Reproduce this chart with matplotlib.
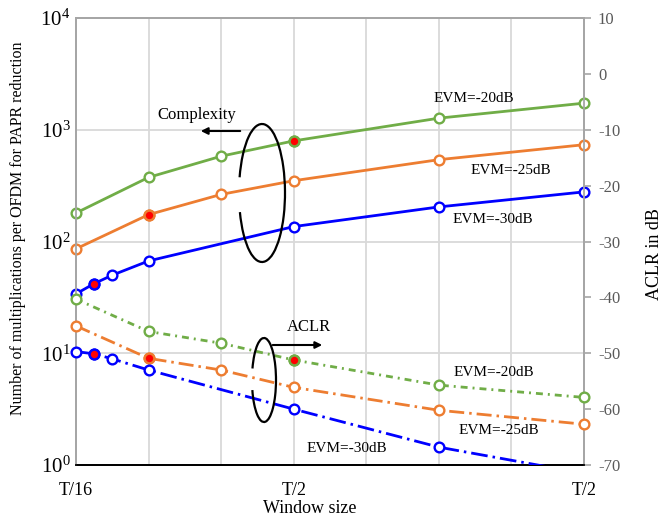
import math
import matplotlib
matplotlib.use("Agg")
import matplotlib.pyplot as plt
from matplotlib.patches import Arc
from matplotlib.ticker import FixedLocator, FuncFormatter

plt.rcParams['font.family'] = ['Liberation Serif', 'DejaVu Serif']
plt.rcParams['mathtext.fontset'] = 'custom'
plt.rcParams['mathtext.rm'] = 'Liberation Serif'
plt.rcParams['mathtext.it'] = 'Liberation Serif:italic'
plt.rcParams['axes.unicode_minus'] = False

# ---------------- data ----------------
x_main = [0, 1, 2, 3, 5, 7]
x_blue = [0, 0.25, 0.5, 1, 3, 5, 7]

cplx_evm20 = [180, 375, 580, 795, 1270, 1730]
cplx_evm25 = [86, 174, 264, 350, 540, 735]
cplx_evm30 = [34, 42, 50, 67, 136, 204, 278]

aclr_evm20 = [-40.3, -46.1, -48.2, -51.2, -55.7, -57.9]
aclr_evm25 = [-45.1, -50.9, -53.0, -56.1, -60.2, -62.7]
aclr_evm30 = [-49.7, -50.1, -51.0, -53.0, -60.0, -66.8, -71.5]

red20_idx = 3   # x = 3
red25_idx = 1   # x = 1
red30_idx = 1   # x = 0.25

xtick_pos = [0, 3, 7]
xtick_labels = ["T/16", "T/2", "T/2"]

# ---------------- style ----------------
GREEN = "#70ad47"
ORANGE = "#ed7d31"
BLUE = "#0000ff"
GRID = "#d9d9d9"

fig = plt.figure(figsize=(6.66, 5.19), dpi=100)
ax = fig.add_axes([0.1141, 0.104, 0.7628, 0.8613])
ax2 = ax.twinx()

ax.set_yscale("log")
ax.set_ylim(1, 1e4)
ax.set_xlim(0, 7)
ax2.set_ylim(-70, 10)

# grid
ax.xaxis.set_major_locator(FixedLocator(list(range(8))))
ax.grid(True, which="major", color=GRID, lw=1.3)
ax.yaxis.set_major_locator(FixedLocator([1, 10, 100, 1000, 10000]))
ax.yaxis.set_minor_locator(FixedLocator([]))
ax.yaxis.set_major_formatter(FuncFormatter(lambda v, p: r"$\mathregular{10^{%d}}$" % round(math.log10(v))))
ax.tick_params(axis="y", length=0, labelsize=15, pad=4)
ax.set_xticklabels([])
ax.tick_params(axis="x", length=0)
for xp, lab in zip(xtick_pos, xtick_labels):
    ax.text(xp, -0.057, lab, transform=ax.get_xaxis_transform(), ha="center", va="center", fontsize=13)

ax2.set_yticks(range(-70, 11, 10))
ax2.tick_params(axis="y", length=5, color="#a6a6a6", width=1.2, labelcolor="#595959", labelsize=12, pad=5)

for a in (ax, ax2):
    a.spines["left"].set_color("#a6a6a6")
    a.spines["right"].set_color("#a6a6a6")
    a.spines["top"].set_color("#a6a6a6")
    a.spines["bottom"].set_color("black")
    for s in a.spines.values():
        s.set_linewidth(1.3)

ax.set_ylabel("Number of multiplications per OFDM for PAPR reduction", fontsize=11.5)
ax.yaxis.set_label_coords(-0.098, 0.53)
ax2.set_ylabel("ACLR in dB", fontsize=13)
ax2.yaxis.set_label_coords(1.122, 0.472)
ax.set_xlabel("Window size", fontsize=13)
ax.xaxis.set_label_coords(0.46, -0.078)

ms = 7
mew = 1.7
lw = 2.0

def draw(axis, xs, ys, color, ls, red_idx, z, lo, hi):
    axis.plot(xs, ys, color=color, lw=lw, ls=ls, zorder=z)
    mx = [x for x, y in zip(xs, ys) if lo <= y <= hi]
    my = [y for y in ys if lo <= y <= hi]
    axis.plot(mx, my, ls="none", marker="o", ms=ms, mfc="white",
              mec=color, mew=mew, zorder=z + 0.05, clip_on=False)
    axis.plot([xs[red_idx]], [ys[red_idx]], ls="none", marker="o", ms=ms, mfc="red",
              mec=color, mew=mew, zorder=z + 0.1, clip_on=False)

# complexity (left axis)
draw(ax, x_main, cplx_evm20, GREEN, "-", red20_idx, 3, 1, 1e4)
draw(ax, x_main, cplx_evm25, ORANGE, "-", red25_idx, 3, 1, 1e4)
draw(ax, x_blue, cplx_evm30, BLUE, "-", red30_idx, 3, 1, 1e4)

# ACLR (right axis)
draw(ax2, x_main, aclr_evm20, GREEN, (0, (2.5, 1.8, 0.7, 1.8)), red20_idx, 3, -70, 10)
draw(ax2, x_main, aclr_evm25, ORANGE, (0, (5.4, 1.8, 0.9, 1.8)), red25_idx, 3, -70, 10)
draw(ax2, x_blue, aclr_evm30, BLUE, (0, (6.0, 1.8, 0.9, 1.8)), red30_idx, 4, -70, 10)

# annotations in pixel-based figure coordinates
W, H = 666.0, 519.0
def fx(px):
    return px / W
def fy(py):
    return 1 - py / H

ftr = fig.transFigure
# Complexity ellipse + arrow
fig.patches.append(Arc((fx(262), fy(193)), 46 / W, 138 / H, theta1=228, theta2=138,
                       transform=ftr, color="black", lw=1.6, zorder=10))
ax2.annotate("", xy=(fx(198), fy(131)), xycoords=ftr, xytext=(fx(243), fy(131)), textcoords=ftr,
             arrowprops=dict(arrowstyle="-|>", color="black", lw=1.5, mutation_scale=10), zorder=10)
fig.text(fx(197), fy(115), "Complexity", ha="center", va="center", fontsize=12)

# ACLR ellipse + arrow
fig.patches.append(Arc((fx(264), fy(380)), 24 / W, 84 / H, theta1=228, theta2=128,
                       transform=ftr, color="black", lw=1.6, zorder=10))
ax2.annotate("", xy=(fx(325), fy(345)), xycoords=ftr, xytext=(fx(270), fy(345)), textcoords=ftr,
             arrowprops=dict(arrowstyle="-|>", color="black", lw=1.5, mutation_scale=10), zorder=10)
fig.text(fx(309), fy(327), "ACLR", ha="center", va="center", fontsize=12)

# EVM labels
fs = 11
fig.text(fx(474), fy(99), "EVM=-20dB", ha="center", va="center", fontsize=fs)
fig.text(fx(511), fy(171), "EVM=-25dB", ha="center", va="center", fontsize=fs)
fig.text(fx(493), fy(219), "EVM=-30dB", ha="center", va="center", fontsize=fs)
fig.text(fx(494), fy(373), "EVM=-20dB", ha="center", va="center", fontsize=fs)
fig.text(fx(499), fy(430), "EVM=-25dB", ha="center", va="center", fontsize=fs)
fig.text(fx(347), fy(448), "EVM=-30dB", ha="center", va="center", fontsize=fs)

fig.savefig("out.png", dpi=100)
